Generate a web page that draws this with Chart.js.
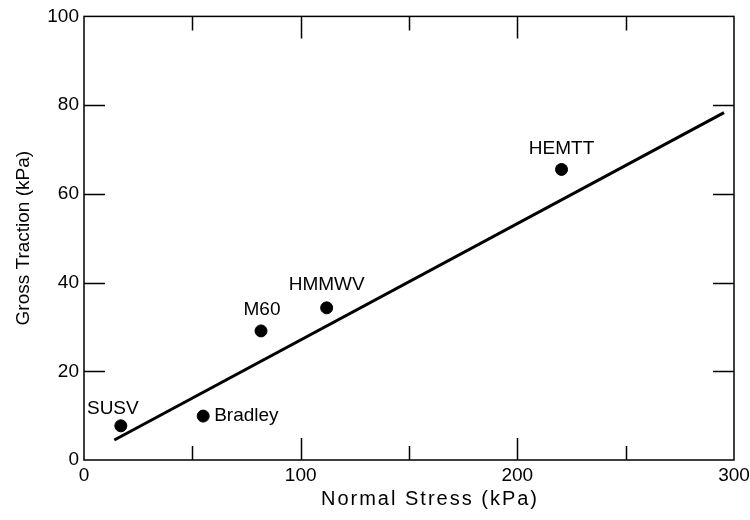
<!DOCTYPE html>
<html>
<head>
<meta charset="utf-8">
<script src="https://cdn.jsdelivr.net/npm/chart.js@4.4.1/dist/chart.umd.min.js"></script>
<style>
    html, body { margin: 0; padding: 0; background: #fff; }
    #wrap { width: 750px; height: 520px; }
</style>
</head>
<body>
<div id="wrap"><canvas id="TractionChart"></canvas></div>
<script>
// values
const vehicles = ["SUSV", "Bradley", "M60", "HMMWV", "HEMTT"];
const normalStress = [17, 55, 81.7, 112, 220.4];
const grossTraction = [7.7, 9.9, 29.1, 34.3, 65.5];
const fitStress = [14, 295.4];
const fitTraction = [4.5, 78.3];
const xTicks = [0, 100, 200, 300];
const yTicks = [0, 20, 40, 60, 80, 100];
const xTitle = "Normal Stress (kPa)";
const yTitle = "Gross Traction (kPa)";

const FONT = "'Liberation Sans', Arial, Helvetica, sans-serif";

function TractionChart() {
    const ctx = document.getElementById("TractionChart");

    // where each name sits relative to its dot
    const labelSpots = {
        SUSV: { dx: -8, dy: -17, align: "center" },
        Bradley: { dx: 11, dy: 0, align: "left" },
        M60: { dx: 1, dy: -21, align: "center" },
        HMMWV: { dx: 0, dy: -23, align: "center" },
        HEMTT: { dx: 0, dy: -21, align: "center" },
    };

    const frame = {
        id: "frame",
        afterDraw(chart) {
            const c = chart.ctx;
            const a = chart.chartArea;
            const sx = chart.scales.x;
            const sy = chart.scales.y;
            c.save();
            c.strokeStyle = "#000";
            c.lineWidth = 1.5;
            c.strokeRect(a.left, a.top, a.right - a.left, a.bottom - a.top);
            c.beginPath();
            for (let v = 50; v < 300; v += 50) {
                const px = Math.round(sx.getPixelForValue(v)) + 0.5;
                const len = v % 100 === 0 ? 22 : 14;
                c.moveTo(px, a.bottom);
                c.lineTo(px, a.bottom - len);
                c.moveTo(px, a.top);
                c.lineTo(px, a.top + len);
            }
            for (let v = 20; v < 100; v += 20) {
                const py = Math.round(sy.getPixelForValue(v)) + 0.5;
                c.moveTo(a.left, py);
                c.lineTo(a.left + 21, py);
                c.moveTo(a.right, py);
                c.lineTo(a.right - 21, py);
            }
            c.stroke();

            // x axis title, a bit wider and right of centre in the original
            c.fillStyle = "#000";
            c.font = "20px " + FONT;
            c.letterSpacing = "2px";
            c.textAlign = "center";
            c.textBaseline = "middle";
            c.fillText(xTitle, (a.left + a.right) / 2 + 21, 499);
            c.restore();
        },
        afterDatasetsDraw(chart) {
            const c = chart.ctx;
            const meta = chart.getDatasetMeta(1);
            c.save();
            c.fillStyle = "#000";
            c.font = "19px " + FONT;
            c.textBaseline = "middle";
            meta.data.forEach((pt, i) => {
                const name = vehicles[i];
                const s = labelSpots[name];
                c.textAlign = s.align;
                c.fillText(name, pt.x + s.dx, pt.y + s.dy);
            });
            c.restore();
        },
    };

    new Chart(ctx, {
        type: "scatter",
        data: {
            datasets: [
                {
                    type: "line",
                    label: "Fit",
                    data: fitStress.map((x, i) => ({ x: x, y: fitTraction[i] })),
                    borderColor: "#000",
                    borderWidth: 3,
                    pointRadius: 0,
                    fill: false,
                },
                {
                    label: "Vehicles",
                    data: normalStress.map((x, i) => ({ x: x, y: grossTraction[i] })),
                    backgroundColor: "#000",
                    borderColor: "#000",
                    pointRadius: 6,
                },
            ],
        },
        options: {
            responsive: true,
            maintainAspectRatio: false,
            animation: false,
            layout: {
                padding: { top: 8, right: 16, left: 0, bottom: 0 },
            },
            scales: {
                x: {
                    type: "linear",
                    min: 0,
                    max: 300,
                    afterBuildTicks: (axis) => {
                        axis.ticks = xTicks.map((v) => ({ value: v }));
                    },
                    afterFit: (axis) => {
                        axis.height = 60;
                        axis.paddingLeft = 0;
                        axis.paddingRight = 0;
                    },
                    ticks: {
                        color: "#000",
                        padding: 4,
                        font: { family: FONT, size: 19 },
                        maxRotation: 0,
                    },
                    grid: { display: false, drawTicks: false },
                    border: { display: false },
                },
                y: {
                    type: "linear",
                    min: 0,
                    max: 100,
                    afterBuildTicks: (axis) => {
                        axis.ticks = yTicks.map((v) => ({ value: v }));
                    },
                    afterFit: (axis) => {
                        axis.width = 84;
                    },
                    ticks: {
                        color: "#000",
                        padding: 5,
                        font: { family: FONT, size: 19 },
                    },
                    grid: { display: false, drawTicks: false },
                    border: { display: false },
                    title: {
                        display: true,
                        text: yTitle,
                        color: "#000",
                        font: { family: FONT, size: 19 },
                        padding: { top: 12, bottom: 0 },
                    },
                },
            },
            plugins: {
                legend: { display: false },
                tooltip: { enabled: false },
            },
        },
        plugins: [frame],
    });
}

TractionChart()
</script>
</body>
</html>
